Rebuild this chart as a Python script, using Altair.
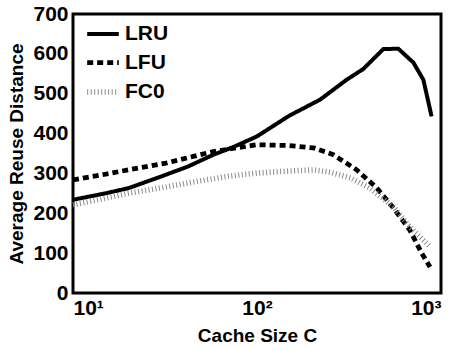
import altair as alt
import pandas as pd

lru_x = [10, 15, 20, 30, 42, 58, 75, 100, 150, 220, 307, 378, 486, 586, 708, 802, 889]
lru_y = [234, 250, 263, 292, 317, 347, 367, 393, 445, 485, 535, 562, 612, 613, 578, 535, 443]

lfu_x = [10, 15, 20, 32, 58, 100, 150, 203, 260, 348, 447, 552, 677, 785, 872]
lfu_y = [284, 298, 309, 326, 355, 372, 370, 364, 347, 309, 264, 213, 158, 100, 65]

fc0_x = [10, 15, 20, 32, 50, 70, 100, 150, 203, 250, 321, 412, 552, 677, 872]
fc0_y = [221, 238, 250, 266, 282, 293, 301, 306, 309, 303, 289, 263, 216, 166, 116]

series = ["LRU", "LFU", "FC0"]
rows = []
for name, xs, ys in [("LRU", lru_x, lru_y), ("LFU", lfu_x, lfu_y), ("FC0", fc0_x, fc0_y)]:
    for i, (a, b) in enumerate(zip(xs, ys)):
        rows.append({"series": name, "C": a, "dist": b, "order": i})
df = pd.DataFrame(rows)

FONT = "Liberation Sans"

chart = alt.Chart(df).mark_line(strokeCap="butt", strokeJoin="miter").encode(
    x=alt.X("C:Q", scale=alt.Scale(type="log", domain=[10, 1000], nice=False),
            axis=alt.Axis(values=[10, 100, 1000], title="Cache Size C",
                          labelExpr="datum.value == 10 ? '10¹' : datum.value == 100 ? '10²' : '10³'",
                          grid=False, ticks=False, domain=False, labelPadding=4,
                          labelFontSize=21, titleFontSize=19, titlePadding=8)),
    y=alt.Y("dist:Q", scale=alt.Scale(domain=[0, 700], nice=False),
            axis=alt.Axis(values=list(range(0, 701, 100)), title="Average Reuse Distance",
                          grid=False, ticks=False, domain=False, labelPadding=5,
                          labelFontSize=21, titleFontSize=19, titlePadding=6)),
    order="order:Q",
    color=alt.Color("series:N", scale=alt.Scale(domain=series, range=["#000000", "#000000", "#8a8a8a"]),
                    legend=alt.Legend(title=None, orient="none", legendX=11, legendY=2,
                                      symbolType="stroke", symbolSize=1000,
                                      labelFontSize=21, labelFont=FONT, labelFontWeight="bold",
                                      labelColor="#000", rowPadding=-6, labelOffset=3,
                                      labelLimit=200)),
    strokeDash=alt.StrokeDash("series:N", scale=alt.Scale(domain=series, range=[[1, 0], [6, 4], [1, 2.5]]),
                              legend=None),
    strokeWidth=alt.StrokeWidth("series:N", scale=alt.Scale(domain=series, range=[4, 5.5, 5]), legend=None),
).properties(
    width=368, height=279,
    autosize=alt.AutoSizeParams(type="none"),
    padding={"left": 73, "top": 14, "right": 14, "bottom": 58}
).configure_axis(
    labelFont=FONT, titleFont=FONT, labelFontWeight="bold", titleFontWeight="bold",
    labelColor="#000", titleColor="#000"
).configure_view(
    stroke="#000", strokeWidth=3
)

chart.save("out.html", embed_options={"renderer": "svg", "actions": False})
